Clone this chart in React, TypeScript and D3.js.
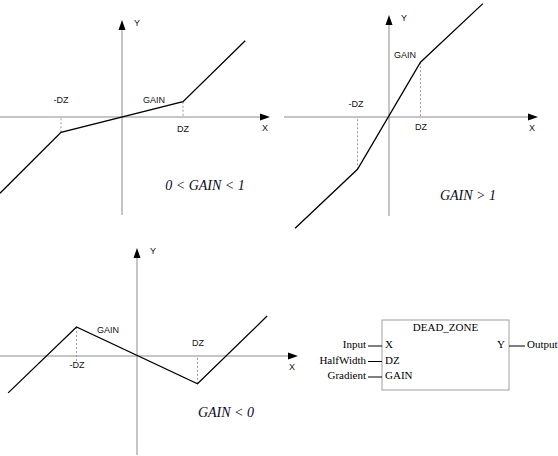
import * as d3 from "d3";

// Kennlinien der Totzone (DZ = 1), [x, y]
const curveGainBelowOne: [number, number][] = [[-2, -1.25], [-1, -0.25], [1, 0.25], [2.02, 1.25]];
const curveGainAboveOne: [number, number][] = [[-2.98, -3.53], [-1, -1.66], [1, 1.74], [2.98, 3.6]];
const curveGainNegative: [number, number][] = [[-2.13, -0.61], [-1, 0.48], [1, -0.46], [2.15, 0.66]];

const captions = ["0 < GAIN < 1", "GAIN > 1", "GAIN < 0"];
const pointLabels = ["-DZ", "DZ", "GAIN"];
const blockTitle = "DEAD_ZONE";
const blockInputs = ["Input", "HalfWidth", "Gradient"];
const blockPins = ["X", "DZ", "GAIN"];
const blockOutput = { pin: "Y", name: "Output" };

const W = 558;
const H = 456;
const sans = "'Liberation Sans', Arial, sans-serif";
const serif = "'Liberation Serif', 'Times New Roman', serif";

type Panel = {
  data: [number, number][];
  origin: [number, number];
  unit: number;
  xAxis: [number, number];
  yAxis: [number, number];
  caption: string;
  captionPos: [number, number];
  // label positions [x, y] in px: -DZ, DZ, GAIN, X, Y
  labels: [number, number][];
  dashExtra: [number, number];
};

const panels: Panel[] = [
  {
    data: curveGainBelowOne,
    origin: [122, 117],
    unit: 61,
    xAxis: [0, 270],
    yAxis: [215, 20],
    caption: captions[0],
    captionPos: [205, 190],
    labels: [[61, 103], [183, 132], [154, 103], [265, 131], [137, 26]],
    dashExtra: [0, 0],
  },
  {
    data: curveGainAboveOne,
    origin: [389, 117],
    unit: 31.5,
    xAxis: [284, 538],
    yAxis: [216, 15],
    caption: captions[1],
    captionPos: [468, 200],
    labels: [[356, 107], [421, 130], [405, 58], [532, 131], [404, 21]],
    dashExtra: [0, 0],
  },
  {
    data: curveGainNegative,
    origin: [137, 356],
    unit: 60.5,
    xAxis: [0, 298],
    yAxis: [455, 248],
    caption: captions[2],
    captionPos: [226, 417],
    labels: [[77, 368], [198, 346], [108, 333], [292, 370], [153, 254]],
    dashExtra: [5, 0],
  },
];

function PanelChart({ p }: { p: Panel }) {
  const x = d3.scaleLinear().domain([0, 1]).range([p.origin[0], p.origin[0] + p.unit]);
  const y = d3.scaleLinear().domain([0, 1]).range([p.origin[1], p.origin[1] - p.unit]);
  const line = d3.line<[number, number]>().x((d) => x(d[0])).y((d) => y(d[1]));
  const [ox, oy] = p.origin;
  const [x0, x1] = p.xAxis;
  const [yb, yt] = p.yAxis;
  // Knickpunkte bei -DZ und DZ
  const breaks = [p.data[1], p.data[2]];
  const texts = [...pointLabels, "X", "Y"];
  return (
    <g>
      <line x1={x0} x2={x1 - 8} y1={oy} y2={oy} stroke="#8c8c8c" strokeWidth={1} />
      <path d={`M${x1},${oy} L${x1 - 10},${oy - 3.5} L${x1 - 10},${oy + 3.5} Z`} fill="#000" />
      <line x1={ox} x2={ox} y1={yb} y2={yt + 8} stroke="#8c8c8c" strokeWidth={1} />
      <path d={`M${ox},${yt} L${ox - 3.5},${yt + 10} L${ox + 3.5},${yt + 10} Z`} fill="#000" />
      {breaks.map((b, i) => (
        <line
          key={i}
          x1={x(b[0])}
          x2={x(b[0])}
          y1={y(b[1])}
          y2={b[1] > 0 ? oy + p.dashExtra[i] : oy}
          stroke="#999"
          strokeWidth={1}
          strokeDasharray="2,2"
        />
      ))}
      <path d={line(p.data) ?? ""} fill="none" stroke="#000" strokeWidth={1.3} />
      {texts.map((t, i) => (
        <text
          key={t}
          x={p.labels[i][0]}
          y={p.labels[i][1]}
          textAnchor="middle"
          fontFamily={sans}
          fontSize={9}
          fill="#111"
        >
          {t}
        </text>
      ))}
      <text
        x={p.captionPos[0]}
        y={p.captionPos[1]}
        textAnchor="middle"
        fontFamily={serif}
        fontStyle="italic"
        fontSize={14}
        fill="#0a0a1e"
      >
        {p.caption}
      </text>
    </g>
  );
}

function Block() {
  const box = { x: 382, y: 320, w: 127, h: 70 };
  const rows = d3.scaleLinear().domain([0, 2]).range([348, 379]);
  return (
    <g fontFamily={serif} fontSize={11} fill="#000">
      <rect x={box.x} y={box.y} width={box.w} height={box.h} fill="#fff" stroke="#a0a0a0" strokeWidth={1} />
      <text x={box.x + box.w / 2} y={331} textAnchor="middle">{blockTitle}</text>
      {blockInputs.map((name, i) => (
        <g key={name}>
          <text x={366} y={rows(i)} textAnchor="end">{name}</text>
          <line x1={368} x2={box.x} y1={rows(i) - 2} y2={rows(i) - 2} stroke="#000" />
          <text x={box.x + 3} y={rows(i)}>{blockPins[i]}</text>
        </g>
      ))}
      <text x={box.x + box.w - 4} y={rows(0)} textAnchor="end">{blockOutput.pin}</text>
      <line x1={box.x + box.w} x2={box.x + box.w + 16} y1={rows(0) - 2} y2={rows(0) - 2} stroke="#000" />
      <text x={box.x + box.w + 18} y={rows(0)}>{blockOutput.name}</text>
    </g>
  );
}

export default function App() {
  return (
    <svg
      width={W}
      height={H}
      style={{ position: "absolute", left: 0, top: 0, background: "#fff" }}
    >
      {panels.map((p, i) => (
        <PanelChart key={i} p={p} />
      ))}
      <Block />
    </svg>
  );
}
